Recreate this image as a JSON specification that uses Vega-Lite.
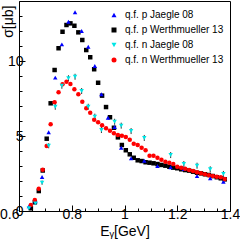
{
  "$schema": "https://vega.github.io/schema/vega-lite/v6.json",
  "width": 211,
  "height": 210,
  "padding": {"left": 19, "top": 1, "right": 10, "bottom": 38},
  "autosize": {"type": "none"},
  "background": "white",
  "config": {
    "view": {"stroke": "black", "strokeWidth": 1},
    "font": "Liberation Sans",
    "axis": {
      "domainColor": "black",
      "tickColor": "black",
      "grid": false,
      "labelFont": "Liberation Sans",
      "labelFontSize": 14,
      "labelColor": "black",
      "titleFont": "Liberation Sans",
      "titleFontSize": 14,
      "titleFontWeight": "normal",
      "titleColor": "black"
    }
  },
  "resolve": {"axis": {"x": "independent", "y": "independent"}},
  "data": {"values": [
    {"E": 0.645, "s": 0.18, "set": "q.f. p Werthmueller 13"},
    {"E": 0.66, "s": 0.58, "set": "q.f. p Werthmueller 13"},
    {"E": 0.675, "s": 1.33, "set": "q.f. p Werthmueller 13"},
    {"E": 0.69, "s": 2.7, "set": "q.f. p Werthmueller 13"},
    {"E": 0.705, "s": 4.82, "set": "q.f. p Werthmueller 13"},
    {"E": 0.72, "s": 7.18, "set": "q.f. p Werthmueller 13"},
    {"E": 0.735, "s": 9.4, "set": "q.f. p Werthmueller 13"},
    {"E": 0.75, "s": 10.85, "set": "q.f. p Werthmueller 13"},
    {"E": 0.765, "s": 11.95, "set": "q.f. p Werthmueller 13"},
    {"E": 0.78, "s": 12.4, "set": "q.f. p Werthmueller 13"},
    {"E": 0.795, "s": 12.51, "set": "q.f. p Werthmueller 13"},
    {"E": 0.81, "s": 12.35, "set": "q.f. p Werthmueller 13"},
    {"E": 0.825, "s": 11.91, "set": "q.f. p Werthmueller 13"},
    {"E": 0.84, "s": 11.4, "set": "q.f. p Werthmueller 13"},
    {"E": 0.855, "s": 10.73, "set": "q.f. p Werthmueller 13"},
    {"E": 0.87, "s": 10.25, "set": "q.f. p Werthmueller 13"},
    {"E": 0.885, "s": 9.45, "set": "q.f. p Werthmueller 13"},
    {"E": 0.9, "s": 8.55, "set": "q.f. p Werthmueller 13"},
    {"E": 0.915, "s": 7.69, "set": "q.f. p Werthmueller 13"},
    {"E": 0.93, "s": 6.93, "set": "q.f. p Werthmueller 13"},
    {"E": 0.945, "s": 6.25, "set": "q.f. p Werthmueller 13"},
    {"E": 0.96, "s": 5.55, "set": "q.f. p Werthmueller 13"},
    {"E": 0.975, "s": 4.91, "set": "q.f. p Werthmueller 13"},
    {"E": 0.99, "s": 4.4, "set": "q.f. p Werthmueller 13"},
    {"E": 1.005, "s": 4.05, "set": "q.f. p Werthmueller 13"},
    {"E": 1.02, "s": 3.78, "set": "q.f. p Werthmueller 13"},
    {"E": 1.035, "s": 3.55, "set": "q.f. p Werthmueller 13"},
    {"E": 1.05, "s": 3.38, "set": "q.f. p Werthmueller 13"},
    {"E": 1.065, "s": 3.33, "set": "q.f. p Werthmueller 13"},
    {"E": 1.08, "s": 3.25, "set": "q.f. p Werthmueller 13"},
    {"E": 1.095, "s": 3.22, "set": "q.f. p Werthmueller 13"},
    {"E": 1.11, "s": 3.18, "set": "q.f. p Werthmueller 13"},
    {"E": 1.125, "s": 3.13, "set": "q.f. p Werthmueller 13"},
    {"E": 1.14, "s": 3.07, "set": "q.f. p Werthmueller 13"},
    {"E": 1.155, "s": 3.02, "set": "q.f. p Werthmueller 13"},
    {"E": 1.17, "s": 2.95, "set": "q.f. p Werthmueller 13"},
    {"E": 1.185, "s": 2.89, "set": "q.f. p Werthmueller 13"},
    {"E": 1.2, "s": 2.85, "set": "q.f. p Werthmueller 13"},
    {"E": 1.215, "s": 2.78, "set": "q.f. p Werthmueller 13"},
    {"E": 1.23, "s": 2.73, "set": "q.f. p Werthmueller 13"},
    {"E": 1.245, "s": 2.69, "set": "q.f. p Werthmueller 13"},
    {"E": 1.26, "s": 2.62, "set": "q.f. p Werthmueller 13"},
    {"E": 1.275, "s": 2.55, "set": "q.f. p Werthmueller 13"},
    {"E": 1.29, "s": 2.51, "set": "q.f. p Werthmueller 13"},
    {"E": 1.305, "s": 2.45, "set": "q.f. p Werthmueller 13"},
    {"E": 1.32, "s": 2.4, "set": "q.f. p Werthmueller 13"},
    {"E": 1.335, "s": 2.33, "set": "q.f. p Werthmueller 13"},
    {"E": 1.35, "s": 2.25, "set": "q.f. p Werthmueller 13"},
    {"E": 1.365, "s": 2.18, "set": "q.f. p Werthmueller 13"},
    {"E": 1.38, "s": 2.11, "set": "q.f. p Werthmueller 13"},

    {"E": 0.6375, "s": 0.31, "set": "q.f. p Jaegle 08"},
    {"E": 0.6625, "s": 0.65, "set": "q.f. p Jaegle 08"},
    {"E": 0.6875, "s": 2.27, "set": "q.f. p Jaegle 08"},
    {"E": 0.7125, "s": 5.25, "set": "q.f. p Jaegle 08"},
    {"E": 0.7375, "s": 8.89, "set": "q.f. p Jaegle 08"},
    {"E": 0.7625, "s": 11.11, "set": "q.f. p Jaegle 08"},
    {"E": 0.7875, "s": 12.62, "set": "q.f. p Jaegle 08"},
    {"E": 0.8125, "s": 13.25, "set": "q.f. p Jaegle 08"},
    {"E": 0.8375, "s": 12.0, "set": "q.f. p Jaegle 08"},
    {"E": 0.8625, "s": 10.95, "set": "q.f. p Jaegle 08"},
    {"E": 0.8875, "s": 9.67, "set": "q.f. p Jaegle 08"},
    {"E": 0.9125, "s": 7.78, "set": "q.f. p Jaegle 08"},
    {"E": 0.9375, "s": 6.22, "set": "q.f. p Jaegle 08"},
    {"E": 0.9625, "s": 5.6, "set": "q.f. p Jaegle 08"},
    {"E": 0.9875, "s": 4.22, "set": "q.f. p Jaegle 08"},
    {"E": 1.025, "s": 3.51, "set": "q.f. p Jaegle 08"},
    {"E": 1.075, "s": 3.35, "set": "q.f. p Jaegle 08"},
    {"E": 1.125, "s": 3.0, "set": "q.f. p Jaegle 08"},
    {"E": 1.175, "s": 2.91, "set": "q.f. p Jaegle 08"},
    {"E": 1.225, "s": 2.8, "set": "q.f. p Jaegle 08"},
    {"E": 1.275, "s": 2.33, "set": "q.f. p Jaegle 08"},
    {"E": 1.325, "s": 2.18, "set": "q.f. p Jaegle 08"},
    {"E": 1.375, "s": 1.95, "set": "q.f. p Jaegle 08"},

    {"E": 0.645, "s": 0.4, "set": "q.f. n Werthmueller 13"},
    {"E": 0.66, "s": 0.73, "set": "q.f. n Werthmueller 13"},
    {"E": 0.675, "s": 1.49, "set": "q.f. n Werthmueller 13"},
    {"E": 0.69, "s": 2.75, "set": "q.f. n Werthmueller 13"},
    {"E": 0.705, "s": 4.33, "set": "q.f. n Werthmueller 13"},
    {"E": 0.72, "s": 5.78, "set": "q.f. n Werthmueller 13"},
    {"E": 0.735, "s": 7.25, "set": "q.f. n Werthmueller 13"},
    {"E": 0.75, "s": 7.91, "set": "q.f. n Werthmueller 13"},
    {"E": 0.765, "s": 8.45, "set": "q.f. n Werthmueller 13"},
    {"E": 0.78, "s": 8.62, "set": "q.f. n Werthmueller 13"},
    {"E": 0.795, "s": 8.47, "set": "q.f. n Werthmueller 13"},
    {"E": 0.81, "s": 8.11, "set": "q.f. n Werthmueller 13"},
    {"E": 0.825, "s": 7.78, "set": "q.f. n Werthmueller 13"},
    {"E": 0.84, "s": 7.29, "set": "q.f. n Werthmueller 13"},
    {"E": 0.855, "s": 6.85, "set": "q.f. n Werthmueller 13"},
    {"E": 0.87, "s": 6.55, "set": "q.f. n Werthmueller 13"},
    {"E": 0.885, "s": 6.08, "set": "q.f. n Werthmueller 13"},
    {"E": 0.9, "s": 5.91, "set": "q.f. n Werthmueller 13"},
    {"E": 0.915, "s": 5.71, "set": "q.f. n Werthmueller 13"},
    {"E": 0.93, "s": 5.51, "set": "q.f. n Werthmueller 13"},
    {"E": 0.945, "s": 5.35, "set": "q.f. n Werthmueller 13"},
    {"E": 0.96, "s": 5.18, "set": "q.f. n Werthmueller 13"},
    {"E": 0.975, "s": 5.07, "set": "q.f. n Werthmueller 13"},
    {"E": 0.99, "s": 5.02, "set": "q.f. n Werthmueller 13"},
    {"E": 1.005, "s": 4.93, "set": "q.f. n Werthmueller 13"},
    {"E": 1.02, "s": 4.75, "set": "q.f. n Werthmueller 13"},
    {"E": 1.035, "s": 4.49, "set": "q.f. n Werthmueller 13"},
    {"E": 1.05, "s": 4.4, "set": "q.f. n Werthmueller 13"},
    {"E": 1.065, "s": 4.22, "set": "q.f. n Werthmueller 13"},
    {"E": 1.08, "s": 4.05, "set": "q.f. n Werthmueller 13"},
    {"E": 1.095, "s": 3.69, "set": "q.f. n Werthmueller 13"},
    {"E": 1.11, "s": 3.69, "set": "q.f. n Werthmueller 13"},
    {"E": 1.125, "s": 3.55, "set": "q.f. n Werthmueller 13"},
    {"E": 1.14, "s": 3.42, "set": "q.f. n Werthmueller 13"},
    {"E": 1.155, "s": 3.29, "set": "q.f. n Werthmueller 13"},
    {"E": 1.17, "s": 3.22, "set": "q.f. n Werthmueller 13"},
    {"E": 1.185, "s": 3.13, "set": "q.f. n Werthmueller 13"},
    {"E": 1.2, "s": 2.95, "set": "q.f. n Werthmueller 13"},
    {"E": 1.215, "s": 2.89, "set": "q.f. n Werthmueller 13"},
    {"E": 1.23, "s": 2.82, "set": "q.f. n Werthmueller 13"},
    {"E": 1.245, "s": 2.73, "set": "q.f. n Werthmueller 13"},
    {"E": 1.26, "s": 2.67, "set": "q.f. n Werthmueller 13"},
    {"E": 1.275, "s": 2.58, "set": "q.f. n Werthmueller 13"},
    {"E": 1.29, "s": 2.51, "set": "q.f. n Werthmueller 13"},
    {"E": 1.305, "s": 2.45, "set": "q.f. n Werthmueller 13"},
    {"E": 1.32, "s": 2.38, "set": "q.f. n Werthmueller 13"},
    {"E": 1.335, "s": 2.33, "set": "q.f. n Werthmueller 13"},
    {"E": 1.35, "s": 2.29, "set": "q.f. n Werthmueller 13"},
    {"E": 1.365, "s": 2.25, "set": "q.f. n Werthmueller 13"},
    {"E": 1.38, "s": 2.13, "set": "q.f. n Werthmueller 13"},

    {"E": 0.6375, "s": 0.18, "lo": 0.1, "hi": 0.26, "set": "q.f. n Jaegle 08"},
    {"E": 0.6625, "s": 0.51, "lo": 0.4, "hi": 0.62, "set": "q.f. n Jaegle 08"},
    {"E": 0.6875, "s": 1.89, "lo": 1.75, "hi": 2.03, "set": "q.f. n Jaegle 08"},
    {"E": 0.7125, "s": 4.35, "lo": 4.18, "hi": 4.52, "set": "q.f. n Jaegle 08"},
    {"E": 0.7375, "s": 6.95, "lo": 6.75, "hi": 7.15, "set": "q.f. n Jaegle 08"},
    {"E": 0.7625, "s": 8.35, "lo": 8.15, "hi": 8.55, "set": "q.f. n Jaegle 08"},
    {"E": 0.7875, "s": 8.85, "lo": 8.65, "hi": 9.05, "set": "q.f. n Jaegle 08"},
    {"E": 0.8125, "s": 8.95, "lo": 8.75, "hi": 9.15, "set": "q.f. n Jaegle 08"},
    {"E": 0.8375, "s": 8.0, "lo": 7.8, "hi": 8.2, "set": "q.f. n Jaegle 08"},
    {"E": 0.8625, "s": 6.95, "lo": 6.75, "hi": 7.15, "set": "q.f. n Jaegle 08"},
    {"E": 0.8875, "s": 6.29, "lo": 6.09, "hi": 6.49, "set": "q.f. n Jaegle 08"},
    {"E": 0.9125, "s": 5.4, "lo": 5.2, "hi": 5.6, "set": "q.f. n Jaegle 08"},
    {"E": 0.9625, "s": 5.95, "lo": 5.75, "hi": 6.15, "set": "q.f. n Jaegle 08"},
    {"E": 0.9875, "s": 5.69, "lo": 5.49, "hi": 5.89, "set": "q.f. n Jaegle 08"},
    {"E": 1.025, "s": 5.33, "lo": 5.13, "hi": 5.53, "set": "q.f. n Jaegle 08"},
    {"E": 1.075, "s": 4.87, "lo": 4.67, "hi": 5.07, "set": "q.f. n Jaegle 08"},
    {"E": 1.175, "s": 3.73, "lo": 3.53, "hi": 3.93, "set": "q.f. n Jaegle 08"},
    {"E": 1.225, "s": 3.13, "lo": 2.93, "hi": 3.33, "set": "q.f. n Jaegle 08"},
    {"E": 1.275, "s": 3.02, "lo": 2.82, "hi": 3.22, "set": "q.f. n Jaegle 08"},
    {"E": 1.325, "s": 2.78, "lo": 2.58, "hi": 2.98, "set": "q.f. n Jaegle 08"},
    {"E": 1.375, "s": 2.47, "lo": 2.27, "hi": 2.67, "set": "q.f. n Jaegle 08"}
  ]},
  "layer": [
    {
      "transform": [{"filter": "datum.set === 'q.f. n Jaegle 08'"}],
      "mark": {"type": "rule", "color": "#333333", "strokeWidth": 1},
      "encoding": {
        "x": {
          "field": "E", "type": "quantitative",
          "scale": {"domain": [0.6, 1.4], "nice": false, "zero": false},
          "axis": {
            "orient": "bottom", "title": null, "domain": false, "labels": false,
            "values": [0.65, 0.7, 0.75, 0.85, 0.9, 0.95, 1.05, 1.1, 1.15, 1.25, 1.3, 1.35],
            "tickSize": -3
          }
        },
        "y": {
          "field": "lo", "type": "quantitative",
          "scale": {"domain": [0, 14], "nice": false},
          "axis": {
            "orient": "left", "title": null, "domain": false, "labels": false,
            "values": [1, 2, 3, 4, 6, 7, 8, 9, 11, 12, 13],
            "tickSize": -3
          }
        },
        "y2": {"field": "hi"}
      }
    },
    {
      "mark": {"type": "point", "filled": true, "opacity": 1, "size": 20, "strokeWidth": 0},
      "encoding": {
        "x": {
          "field": "E", "type": "quantitative",
          "scale": {"domain": [0.6, 1.4], "nice": false, "zero": false},
          "axis": {
            "orient": "bottom",
            "title": "Eᵧ[GeV]",
            "titleX": 105.5, "titleY": 24, "titleBaseline": "alphabetic",
            "values": [0.6, 0.8, 1, 1.2, 1.4],
            "format": "~g",
            "labelAlign": {"condition": {"test": "datum.value == 0.6", "value": "right"}, "value": "center"},
            "tickSize": -6,
            "labelPadding": 2,
            "labelOverlap": false,
            "labelFlush": false
          }
        },
        "y": {
          "field": "s", "type": "quantitative",
          "scale": {"domain": [0, 14], "nice": false},
          "axis": {
            "orient": "left",
            "title": "σ[μb]",
            "titleAngle": -90, "titleAlign": "right", "titleBaseline": "middle",
            "titleX": -11, "titleY": 4,
            "values": [0, 5, 10],
            "format": "d",
            "tickSize": -6,
            "labelPadding": 2,
            "labelOverlap": false,
            "labelFlush": false
          }
        },
        "color": {
          "field": "set", "type": "nominal",
          "scale": {
            "domain": ["q.f. p Jaegle 08", "q.f. p Werthmueller 13", "q.f. n Jaegle 08", "q.f. n Werthmueller 13"],
            "range": ["#0000ff", "#000000", "#00e5e5", "#ff0000"]
          },
          "legend": {
            "orient": "none", "legendX": 90, "legendY": 9,
            "title": null, "padding": 0,
            "labelFont": "Liberation Sans", "labelFontSize": 10, "labelColor": "black",
            "symbolSize": 25, "rowPadding": 5, "labelOffset": 6, "symbolStrokeWidth": 0
          }
        },
        "shape": {
          "field": "set", "type": "nominal",
          "scale": {
            "domain": ["q.f. p Jaegle 08", "q.f. p Werthmueller 13", "q.f. n Jaegle 08", "q.f. n Werthmueller 13"],
            "range": ["triangle-up", "square", "triangle-down", "circle"]
          }
        }
      }
    }
  ]
}
